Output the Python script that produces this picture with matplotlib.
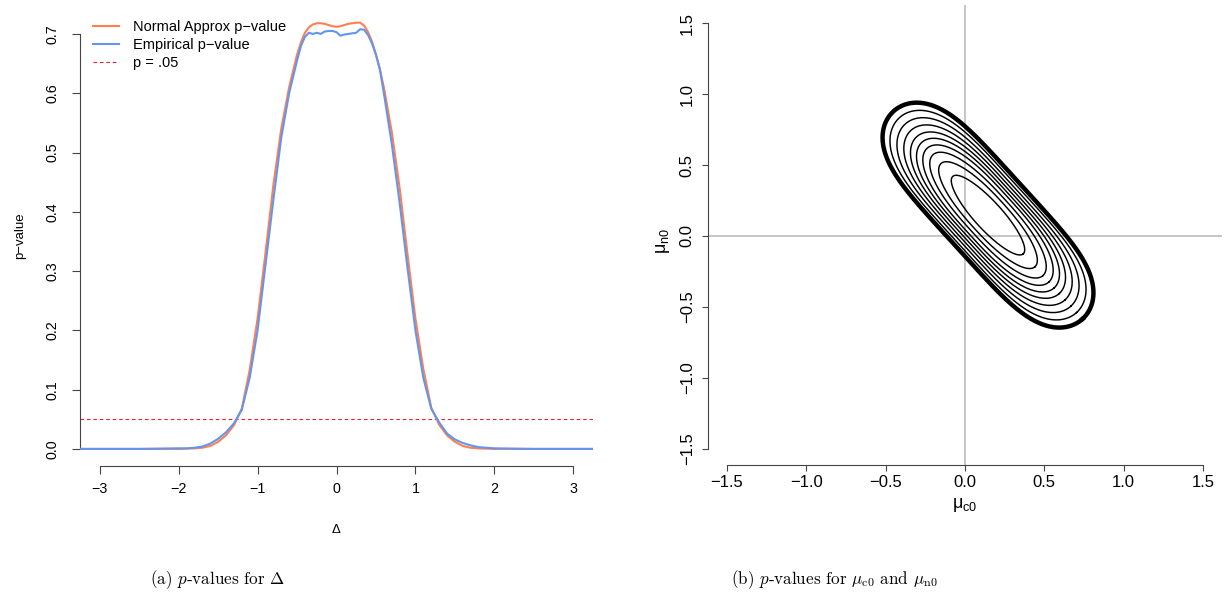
import numpy as np
import matplotlib
matplotlib.use("Agg")
import matplotlib.pyplot as plt

plt.rcParams['font.family'] = ['Liberation Sans', 'DejaVu Sans']
plt.rcParams['mathtext.fontset'] = 'custom'
plt.rcParams['mathtext.rm'] = 'Liberation Sans'
plt.rcParams['mathtext.it'] = 'Liberation Sans:italic'

# ---------------- data: panel (a) ----------------
delta = [-3.25, -2.5, -2.0, -1.9, -1.8, -1.7, -1.6, -1.5, -1.4, -1.3, -1.2, -1.1, -1.0,
         -0.9, -0.8, -0.7, -0.6, -0.5, -0.45, -0.4, -0.35, -0.3, -0.25, -0.2, -0.15,
         -0.1, -0.05, 0.0, 0.05, 0.1, 0.15, 0.2, 0.25, 0.3, 0.35, 0.4, 0.45, 0.5,
         0.55, 0.6, 0.7, 0.8, 0.9, 1.0, 1.1, 1.2, 1.3, 1.4, 1.5, 1.6, 1.7, 1.8,
         1.9, 2.0, 2.5, 3.25]
p_normal = [0.0, 0.0, 0.0, 0.0005, 0.001, 0.002, 0.005, 0.012, 0.023, 0.040, 0.068, 0.133, 0.22,
            0.33, 0.445, 0.54, 0.61, 0.665, 0.686, 0.702, 0.711, 0.716, 0.718, 0.718, 0.717,
            0.715, 0.713, 0.712, 0.713, 0.715, 0.717, 0.718, 0.719, 0.719, 0.714, 0.703, 0.687, 0.665,
            0.64, 0.61, 0.535, 0.44, 0.328, 0.22, 0.135, 0.07, 0.041, 0.023, 0.012, 0.005, 0.002, 0.001,
            0.0005, 0.0, 0.0, 0.0]
p_empirical = [0.0, 0.0, 0.001, 0.001, 0.002, 0.004, 0.009, 0.017, 0.028, 0.043, 0.066, 0.12, 0.20,
               0.31, 0.42, 0.525, 0.60, 0.655, 0.68, 0.695, 0.702, 0.700, 0.702, 0.700, 0.704,
               0.705, 0.705, 0.703, 0.697, 0.699, 0.700, 0.701, 0.702, 0.708, 0.707, 0.698, 0.684, 0.665,
               0.64, 0.60, 0.515, 0.415, 0.305, 0.20, 0.12, 0.068, 0.045, 0.026, 0.016, 0.010, 0.006, 0.003,
               0.002, 0.001, 0.0, 0.0]
p_threshold = 0.05
legend_labels = ["Normal Approx p\u2212value", "Empirical p\u2212value", "p = .05"]

# ---------------- data: panel (b) ----------------
# contour p-levels from the centre outward (last one = 0.05, drawn thick)
contour_levels = [0.9, 0.8, 0.7, 0.6, 0.5, 0.4, 0.3, 0.2, 0.1, 0.05]
contour_center = (0.145, 0.147)
# half-length (tip to centre), half-width and end bluntness, in mu_c0 units
contour_half_length = [0.33, 0.44, 0.515, 0.57, 0.62, 0.668, 0.722, 0.776, 0.83, 0.885]
contour_half_width = [0.088, 0.12, 0.145, 0.168, 0.186, 0.204, 0.222, 0.24, 0.259, 0.282]
contour_bluntness = [2.0, 2.3, 2.6, 2.9, 3.2, 3.4, 3.6, 3.9, 4.2, 4.5]
contour_angle_deg = -47.7

W, H = 1229, 603
fig = plt.figure(figsize=(W / 100, H / 100), dpi=100)

axis_col = '#444444'

# ---------------- panel (a) ----------------
ax1 = fig.add_axes([80 / W, 1 - 466 / H, 513 / W, 461 / H])
ax1.plot(delta, p_normal, color='#FF7F50', lw=1.5, label=legend_labels[0], zorder=3)
ax1.plot(delta, p_empirical, color='#6495ED', lw=1.5, label=legend_labels[1], zorder=4)
ax1.axhline(p_threshold, color='#E8212B', lw=0.8, dashes=(3.2, 2.6), label=legend_labels[2])
ax1.set_xlim(-3.25, 3.25)
ax1.set_ylim(-0.0288, 0.7488)
for s in ['top', 'right']:
    ax1.spines[s].set_visible(False)
ax1.spines['left'].set_bounds(0, 0.7)
ax1.spines['bottom'].set_bounds(-3, 3)
for s in ['left', 'bottom']:
    ax1.spines[s].set_color(axis_col)
    ax1.spines[s].set_linewidth(0.8)
ax1.set_xticks(np.arange(-3, 4, 1))
ax1.set_yticks(np.arange(0, 0.71, 0.1))
ax1.tick_params(axis='both', direction='out', length=5.5, width=0.8, color=axis_col,
                labelsize=10.3)
ax1.tick_params(axis='x', pad=6)
ax1.tick_params(axis='y', pad=9)
for lab in ax1.get_yticklabels():
    lab.set_rotation(90)
    lab.set_va('center')
ax1.set_xlabel('\u0394', fontsize=9.5)
ax1.xaxis.set_label_coords(0.5, -0.125)
ax1.set_ylabel('p\u2212value', fontsize=9.5)
ax1.yaxis.set_label_coords(-0.105, 0.5)
ax1.legend(loc='upper left', bbox_to_anchor=(0.026, 0.968), frameon=False, fontsize=10.5,
           handlelength=1.75, handletextpad=1.0, labelspacing=0.28, borderpad=0,
           borderaxespad=0)

# ---------------- panel (b) ----------------
ax2 = fig.add_axes([708 / W, 1 - 465 / H, 514 / W, 460 / H])
ax2.set_xlim(-1.62, 1.62)
ax2.set_ylim(-1.613, 1.627)
ax2.axhline(0, color='#BEBEBE', lw=1.2, zorder=1)
ax2.axvline(0, color='#BEBEBE', lw=1.2, zorder=1)

pos = ax2.get_position()
ppx = pos.width * W / (1.62 * 2)
ppy = pos.height * H / (1.627 + 1.613)
k = ppy / ppx
phi = np.deg2rad(contour_angle_deg)
t = np.linspace(0, 2 * np.pi, 721)
for i, lev in enumerate(contour_levels):
    a = contour_half_length[i]
    b = contour_half_width[i]
    n = contour_bluntness[i]
    c = np.cos(t)
    u = a * np.sign(c) * np.abs(c) ** (2 / n)
    v = b * np.sin(t)
    xx = u * np.cos(phi) - v * np.sin(phi)
    yy = (u * np.sin(phi) + v * np.cos(phi)) / k
    lw = 3.2 if lev == 0.05 else 1.05
    ax2.plot(contour_center[0] + xx, contour_center[1] + yy, color='black', lw=lw, zorder=3,
             solid_joinstyle='round')

for s in ['top', 'right']:
    ax2.spines[s].set_visible(False)
ax2.spines['left'].set_bounds(-1.5, 1.5)
ax2.spines['bottom'].set_bounds(-1.5, 1.5)
for s in ['left', 'bottom']:
    ax2.spines[s].set_color(axis_col)
    ax2.spines[s].set_linewidth(0.8)
ticks2 = [-1.5, -1.0, -0.5, 0.0, 0.5, 1.0, 1.5]
ax2.set_xticks(ticks2)
ax2.set_yticks(ticks2)
ax2.tick_params(axis='both', direction='out', length=4.5, width=0.8, color=axis_col,
                labelsize=12)
ax2.tick_params(axis='x', pad=3)
ax2.tick_params(axis='y', pad=5)
for lab in ax2.get_yticklabels():
    lab.set_rotation(90)
    lab.set_va('center')
ax2.set_xlabel('\u03bc${}_{\\mathrm{c0}}$', fontsize=13)
ax2.xaxis.set_label_coords(0.5, -0.068)
ax2.set_ylabel('\u03bc${}_{\\mathrm{n0}}$', fontsize=13)
ax2.yaxis.set_label_coords(-0.071, 0.487)

# ---------------- captions ----------------
fig.text(218 / W, 1 - 580 / H, '(a) $p$-values for $\\Delta$', ha='center', va='center',
         fontsize=12.3, family='cmr10', math_fontfamily='cm')
fig.text(834 / W, 1 - 580 / H, '(b) $p$-values for $\\mu_{\\rm c0}$ and $\\mu_{\\rm n0}$',
         ha='center', va='center', fontsize=12.3, family='cmr10', math_fontfamily='cm')

fig.savefig('out.png', dpi=100)
